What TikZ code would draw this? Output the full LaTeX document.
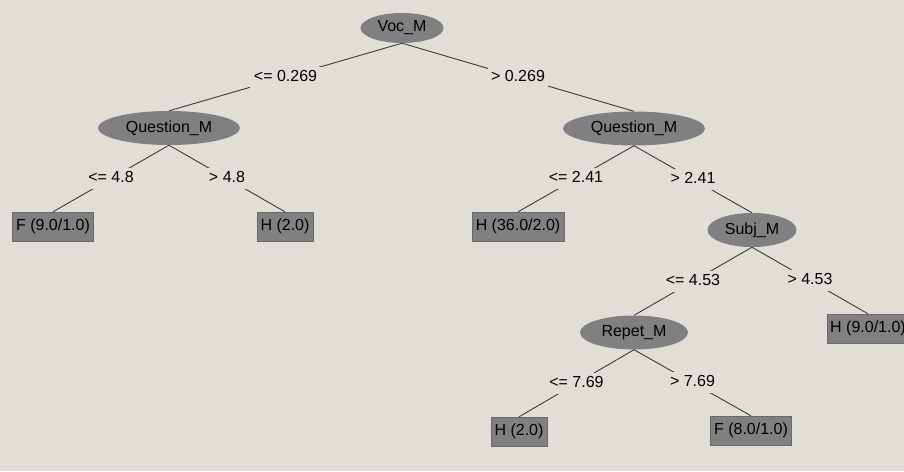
\documentclass[tikz,border=0pt]{standalone}
\usepackage{fontspec}
\setmainfont{Liberation Sans}
\usetikzlibrary{shapes.geometric}
\definecolor{bgcol}{RGB}{225,222,216}
\definecolor{nodegray}{RGB}{128,128,128}
\definecolor{edgecol}{RGB}{60,60,60}
\tikzset{
  split/.style={ellipse,fill=nodegray,inner sep=0pt,minimum height=34pt},
  leaf/.style={rectangle,fill=nodegray,draw={rgb,255:red,105;green,105;blue,105},
    inner xsep=3.5pt,inner ysep=0pt,minimum height=29pt},
  cond/.style={fill=bgcol,inner xsep=3.5pt,inner ysep=3pt,text height=11.5pt,text depth=3.5pt},
  branch/.style={draw=edgecol,line width=0.9pt}
}
\begin{document}
\begin{tikzpicture}[x=1pt,y=-1pt,font=\fontsize{16}{19}\selectfont]
\clip (0,0) rectangle (904,471);
\fill[bgcol] (0,0) rectangle (904,471);

% tests
\node[split,minimum width=83pt,minimum height=30pt] (voc) at (402,28) {Voc\_M};
\node[split,minimum width=142pt] (qleft) at (169,128) {Question\_M};
\node[split,minimum width=142pt] (qright) at (634,128.5) {Question\_M};
\node[split,minimum width=89pt] (subj) at (752,230) {Subj\_M};
\node[split,minimum width=108pt] (repet) at (634,332.5) {Repet\_M};

% leaves
\node[leaf] (fleft) at (53,226.5) {F (9.0/1.0)};
\node[leaf] (hleft) at (285,226.5) {H (2.0)};
\node[leaf] (hmid) at (518,226.5) {H (36.0/2.0)};
\node[leaf] (hright) at (868,328.5) {H (9.0/1.0)};
\node[leaf] (hlow) at (519,431.5) {H (2.0)};
\node[leaf] (flow) at (751,430.5) {F (8.0/1.0)};

% branches
\draw[branch] (voc.south) -- node[cond] {<= 0.269} (qleft.north);
\draw[branch] (voc.south) -- node[cond] {> 0.269} (qright.north);
\draw[branch] (qleft.south) -- node[cond] {<= 4.8} (fleft.north);
\draw[branch] (qleft.south) -- node[cond] {> 4.8} (hleft.north);
\draw[branch] (qright.south) -- node[cond] {<= 2.41} (hmid.north);
\draw[branch] (qright.south) -- node[cond] {> 2.41} (subj.north);
\draw[branch] (subj.south) -- node[cond] {<= 4.53} (repet.north);
\draw[branch] (subj.south) -- node[cond] {> 4.53} (hright.north);
\draw[branch] (repet.south) -- node[cond] {<= 7.69} (hlow.north);
\draw[branch] (repet.south) -- node[cond] {> 7.69} (flow.north);
\end{tikzpicture}
\end{document}
